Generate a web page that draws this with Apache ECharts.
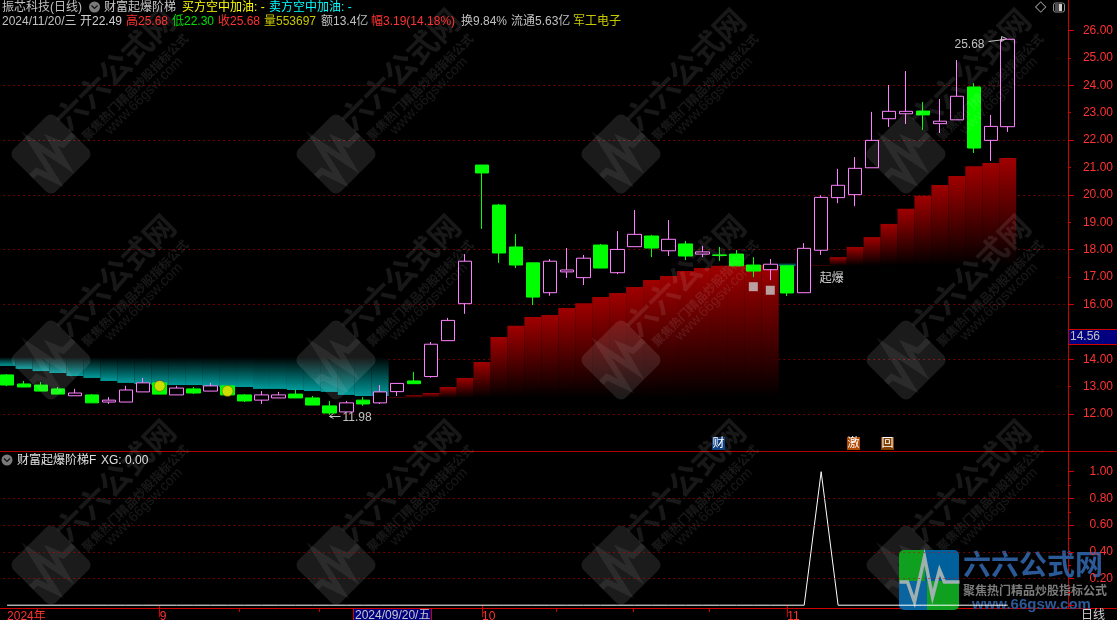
<!DOCTYPE html>
<html><head><meta charset="utf-8">
<style>html,body{margin:0;padding:0;background:#000;overflow:hidden}#c{width:1117px;height:620px}</style>
<script src="https://cdn.jsdelivr.net/npm/echarts@6/dist/echarts.min.js"></script>
</head><body><div id="c"></div>
<script>
const dates = ['08/20','08/21','08/22','08/23','08/26','08/27','08/28','08/29','08/30',
 '09/02','09/03','09/04','09/05','09/06','09/09','09/10','09/11','09/12','09/13','09/18','09/19','09/20','09/23','09/24','09/25','09/26','09/27','09/30',
 '10/08','10/09','10/10','10/11','10/14','10/15','10/16','10/17','10/18','10/21','10/22','10/23','10/24','10/25','10/28','10/29','10/30','10/31',
 '11/01','11/04','11/05','11/06','11/07','11/08','11/11','11/12','11/13','11/14','11/15','11/18','11/19','11/20'];
const opens  = [13.43,13.10,13.06,12.92,12.67,12.70,12.44,12.44,12.81,13.14,12.70,12.92,12.84,13.03,12.70,12.51,12.59,12.73,12.59,12.30,12.08,12.51,12.41,12.82,13.21,13.37,14.68,16.03,21.09,19.63,18.10,17.52,16.43,17.19,16.98,18.17,17.16,18.11,18.50,17.96,18.21,17.84,17.81,17.84,17.44,17.27,17.41,16.43,17.98,19.90,20.01,20.99,22.78,22.96,23.06,22.60,22.74,23.94,21.99,22.49];
const closes = [13.06,12.99,12.84,12.73,12.77,12.41,12.51,12.88,13.14,12.73,12.95,12.77,13.03,12.70,12.48,12.70,12.70,12.59,12.33,12.04,12.41,12.37,12.81,13.12,13.11,14.55,15.42,17.58,20.80,17.88,17.44,16.27,17.58,17.26,17.69,17.33,18.01,18.56,18.06,18.38,17.77,17.92,17.79,17.41,17.22,17.47,16.42,18.05,19.91,20.35,20.97,21.99,23.05,23.05,22.92,22.69,23.60,21.71,22.50,25.68];
const lows   = [13.02,12.99,12.84,12.73,12.67,12.41,12.37,12.44,12.81,12.73,12.70,12.73,12.84,12.70,12.44,12.37,12.59,12.59,12.33,11.98,12.08,12.30,12.37,12.66,13.11,13.33,14.68,15.66,18.76,17.52,17.33,15.98,16.32,16.97,16.71,17.33,17.11,18.11,17.73,17.77,17.62,17.73,17.59,17.41,17.00,16.89,16.31,16.43,17.81,19.70,19.59,20.99,22.48,22.59,22.37,22.26,22.74,21.53,21.24,22.30];
const highs  = [13.46,13.21,13.17,12.99,12.92,12.73,12.62,13.03,13.32,13.14,13.03,12.99,13.14,13.03,12.73,12.84,12.81,12.88,12.66,12.48,12.48,12.62,13.06,13.12,13.54,14.63,15.51,17.84,21.09,19.67,18.57,17.52,17.66,18.06,17.81,18.21,18.68,19.45,18.54,19.08,18.32,18.14,18.10,17.99,17.73,17.66,17.41,18.24,19.99,20.95,21.38,23.03,24.01,24.52,23.39,23.50,24.92,24.08,22.92,25.68];
const n_ = null;
const redTop  = [n_,n_,n_,n_,n_,n_,n_,n_,n_,n_,n_,n_,n_,n_,n_,n_,n_,n_,n_,n_,n_,n_,n_,12.62,12.69,12.77,12.99,13.32,13.90,14.81,15.22,15.54,15.62,15.87,16.05,16.27,16.42,16.64,16.89,17.04,17.22,17.33,17.41,17.44,17.44,17.44,n_,17.44,17.44,17.73,18.10,18.46,18.94,19.49,19.97,20.36,20.69,21.05,21.16,21.35];
const redBase = [n_,n_,n_,n_,n_,n_,n_,n_,n_,n_,n_,n_,n_,n_,n_,n_,n_,n_,n_,n_,n_,n_,n_,12.59,12.59,12.59,12.59,12.59,12.59,12.59,12.59,12.59,12.59,12.59,12.59,12.59,12.59,12.59,12.59,12.59,12.59,12.59,12.59,12.59,12.59,12.59,n_,17.41,17.41,17.41,17.41,17.41,17.41,17.41,17.41,17.41,17.41,17.41,17.41,17.41];
const cyanTop = [14.08,14.08,14.08,14.08,14.08,14.08,14.08,14.08,14.08,14.08,14.08,14.08,14.08,14.08,14.08,14.08,14.08,14.08,14.08,14.08,14.08,14.08,14.08,n_,n_,n_,n_,n_,n_,n_,n_,n_,n_,n_,n_,n_,n_,n_,n_,n_,n_,n_,n_,n_,n_,n_,17.52,n_,n_,n_,n_,n_,n_,n_,n_,n_,n_,n_,n_,n_];
const cyanBottom = [13.76,13.65,13.57,13.50,13.39,13.32,13.21,13.14,13.10,13.06,13.06,13.06,13.03,12.99,12.99,12.92,12.92,12.88,12.84,12.81,12.70,12.66,12.66,n_,n_,n_,n_,n_,n_,n_,n_,n_,n_,n_,n_,n_,n_,n_,n_,n_,n_,n_,n_,n_,n_,n_,17.41,n_,n_,n_,n_,n_,n_,n_,n_,n_,n_,n_,n_,n_];
const yellowSignals = [[9,13.03],[13,12.84]];
const grayMarks = [[44,16.65],[45,16.52]];
const blastLabel = [[48,16.93]];
const extremes = [[59,25.68,'high'],[19,11.98,'low']];
const xg = [0,0,0,0,0,0,0,0,0,0,0,0,0,0,0,0,0,0,0,0,0,0,0,0,0,0,0,0,0,0,0,0,0,0,0,0,0,0,0,0,0,0,0,0,0,0,0,0,1,0,0,0,0,0,0,0,0,0,0,0];
const monthLabels = {0:'2024年',9:'9',28:'10',46:'11'};
const monthTicks = [9,28,46];
const minorTickX = [239,319,556,633,709];
const headerRow1 = [['振芯科技(日线)',2,'#c0c0c0'],['财富起爆阶梯',104,'#c8c8c8'],['买方空中加油: -',182,'#ffff00'],['卖方空中加油: -',269,'#00ffff']];
const headerRow2 = [['2024/11/20/三',2,'#c0c0c0'],['开22.49',80,'#d0d0d0'],['高25.68',126,'#ff3232'],['低22.30',172,'#00e000'],['收25.68',218,'#ff3232'],['量553697',264,'#c8c800'],['额13.4亿',321,'#c0c0c0'],['幅3.19(14.18%)',371,'#ff3232'],['换9.84%',461,'#c0c0c0'],['流通5.63亿',511,'#c0c0c0'],['军工电子',573,'#c8c800']];
const wmX = [51,336,621,906], wmY = [154,360,565];
const ecg = [[-30,2],[-22,2],[-15,22],[-5,-23],[3,17],[10,-10],[15,2],[30,2]];

const FONT = '"Liberation Sans","Noto Sans CJK SC",sans-serif';
const RED='#d00000', DOT='#d80000', LBL='#ff3232';
const cats = dates.map(d=>'2024/'+d).concat(['','','']);
const gfx = [];
const T=(text,x,y,fill,size,extra)=>gfx.push(Object.assign({type:'text',x,y:y+1,z:120,silent:true,style:Object.assign({text,fill,font:(size||12)+'px '+FONT,verticalAlign:'middle'},extra||{})}));
const HL=(x1,y1,x2,y2,stroke,w,z)=>gfx.push({type:'line',z:z||50,silent:true,shape:{x1,y1,x2,y2},style:{stroke,lineWidth:w||1}});

// watermark
wmX.forEach(cx=>wmY.forEach(cy=>{
  gfx.push({type:'rect',z:100,silent:true,x:cx,y:cy,rotation:Math.PI/4,shape:{x:-30,y:-30,width:60,height:60,r:7},style:{fill:'rgba(255,255,255,0.105)'}});
  gfx.push({type:'polyline',z:100,silent:true,x:cx,y:cy,rotation:Math.PI/4,shape:{points:ecg},style:{fill:'none',stroke:'rgba(255,255,255,0.07)',lineWidth:6}});
  const wm=(text,dx,dy,font)=>gfx.push({type:'text',z:100,silent:true,x:cx+dx,y:cy+dy,rotation:Math.PI/4,style:{text,font,fill:'rgba(255,255,255,0.095)',align:'center',verticalAlign:'middle'}});
  wm('六六公式网',64,-85,'bold 31px "Noto Sans CJK SC"');
  wm('聚焦热门精品炒股指标公式',84,-67,'bold 12px "Noto Sans CJK SC"');
  wm('www.66gsw.com',93,-58,'14px "Liberation Sans"');
}));
// frame lines
HL(0,451.5,1117,451.5,'#b00000',1);
HL(0,608.5,1117,608.5,'#d00000',1);
HL(1068.5,0,1068.5,609,RED,1);
minorTickX.forEach(x=>HL(x+.5,608,x+.5,612,RED,1));
// header
headerRow1.forEach(r=>T(r[0],r[1],7,r[2]));
headerRow2.forEach(r=>T(r[0],r[1],21,r[2]));
const chevron=(cx,cy)=>{
  gfx.push({type:'circle',z:120,silent:true,shape:{cx,cy,r:5.5},style:{fill:'#7a7a7a'}});
  gfx.push({type:'polyline',z:121,silent:true,shape:{points:[[cx-3,cy-1.5],[cx,cy+1.5],[cx+3,cy-1.5]]},style:{fill:'none',stroke:'#111',lineWidth:1.2}});
};
chevron(94.5,7); chevron(7,460);
T('财富起爆阶梯F',17,460,'#e0e0e0'); T('XG: 0.00',101,460,'#e0e0e0');
// top-right icons
gfx.push({type:'rect',z:120,silent:true,x:1040.7,y:7,rotation:Math.PI/4,shape:{x:-3.6,y:-3.6,width:7.2,height:7.2},style:{fill:'none',stroke:'#909090'}});
gfx.push({type:'rect',z:120,silent:true,shape:{x:1053.5,y:3,width:11,height:9,r:2},style:{fill:'#000',stroke:'#909090'}});
gfx.push({type:'rect',z:121,silent:true,shape:{x:1059,y:4,width:3,height:7},style:{fill:'#d0d0d0'}});
gfx.push({type:'rect',z:121,silent:true,shape:{x:1055,y:4,width:4,height:7},style:{fill:'#505050'}});
// last price box
gfx.push({type:'rect',z:110,silent:true,shape:{x:1069,y:329.5,width:48,height:15},style:{fill:'#000080'}});
HL(1069,329.5,1117,329.5,RED,1,111); HL(1069,344.5,1117,344.5,RED,1,111);
T('14.56',1070,336,'#c0c0c0');
// cursor date box
gfx.push({type:'rect',z:110,silent:true,shape:{x:353.5,y:608.5,width:78,height:12},style:{fill:'#000080',stroke:RED}});
T('2024/09/20/五',355,615,'#c8c8c8');
T('日线',1081,615,'#d0d0d0');
// badges
const badge=(x,text,bg)=>{gfx.push({type:'rect',z:110,silent:true,shape:{x,y:437,width:13,height:13},style:{fill:bg}});
 T(text,x+6.5,443,'#fff',12,{align:'center'});};
badge(712,'财','#104080'); badge(847,'激','#b04800'); badge(881,'回','#804000');
// corner logo
const G=echarts.graphic.LinearGradient;
const hard=(p,a,b)=>new G(0,0,1,0,[{offset:0,color:a},{offset:p,color:a},{offset:p,color:b},{offset:1,color:b}]);
gfx.push({type:'rect',z:130,silent:true,shape:{x:899,y:550,width:60,height:31,r:[5,5,0,0]},style:{fill:hard(.43,'#0ea01e','#00609c')}});
gfx.push({type:'rect',z:130,silent:true,shape:{x:899,y:581,width:60,height:29,r:[0,0,5,5]},style:{fill:hard(.46,'#0a64a0','#0ea01e')}});
gfx.push({type:'polyline',z:131,silent:true,x:929.5,y:580,shape:{points:ecg},style:{fill:'none',stroke:'#9fb0b0',lineWidth:3.5}});
gfx.push({type:'text',z:131,silent:true,x:963,y:564,style:{text:'六六公式网',fill:'#2b5a98',font:'bold 28px "Noto Sans CJK SC"',verticalAlign:'middle'}});
gfx.push({type:'text',z:131,silent:true,x:963,y:590.5,style:{text:'聚焦热门精品炒股指标公式',fill:'#7c7c7c',font:'bold 12px "Noto Sans CJK SC"',verticalAlign:'middle'}});
gfx.push({type:'text',z:131,silent:true,x:972,y:605,style:{text:'www.66gsw.com',fill:'#2b5a98',font:'bold 15px "Liberation Sans"',verticalAlign:'middle'}});

const zip=(a,b)=>a.map((v,i)=>v==null?null:[i,v,b[i]]).filter(Boolean);
const column=(mkFill)=>(params,api)=>{
  const a=api.coord([api.value(0),api.value(1)]), b=api.coord([api.value(0),api.value(2)]);
  const w=api.size([1,0])[0];
  return {type:'rect',shape:{x:a[0]-w/2,y:Math.min(a[1],b[1]),width:w,height:Math.abs(b[1]-a[1])},style:{fill:mkFill()}};
};
const redFill=()=>new G(0,0,0,1,[{offset:0,color:'#a00000'},{offset:1,color:'#000'}]);
const cyanFill=()=>new G(0,0,0,1,[{offset:0,color:'#000'},{offset:1,color:'#009c9c'}]);
const annot=(params,api)=>{
  const p=api.coord([api.value(0),api.value(1)]), v=api.value(1).toFixed(2), c='#c0c0c0';
  const high=api.value(2)>0, x=Math.round(p[0])+.5, y=Math.round(p[1])+.5, kids=[];
  if(high){
    kids.push({type:'text',x:x-24,y:y+5,style:{text:v,fill:c,font:'12px '+FONT,align:'right',verticalAlign:'middle'}});
    kids.push({type:'line',shape:{x1:x-20,y1:y+2,x2:x-4,y2:y},style:{stroke:c}});
    kids.push({type:'polygon',shape:{points:[[x-7,y-3],[x-2,y-1],[x-7,y+2]]},style:{fill:'none',stroke:c}});
  }else{
    kids.push({type:'text',x:x+13,y:y+2,style:{text:v,fill:c,font:'12px '+FONT,align:'left',verticalAlign:'middle'}});
    kids.push({type:'line',shape:{x1:x,y1:y+1,x2:x+11,y2:y+1},style:{stroke:c}});
    kids.push({type:'polyline',shape:{points:[[x+4,y-2],[x,y+1],[x+4,y+3]]},style:{fill:'none',stroke:c}});
  }
  return {type:'group',children:kids};
};
const dottedMain={show:true,showMinLine:true,showMaxLine:false,lineStyle:{color:DOT,type:[1,4],width:1}};
const dottedLow={show:true,showMinLine:false,showMaxLine:false,lineStyle:{color:DOT,type:[1,4],width:1}};
const axisLineOff={show:false};

const chart=echarts.init(document.getElementById('c'),null,{renderer:'canvas'});
chart.setOption({
  animation:false,backgroundColor:'#000',
  textStyle:{fontFamily:FONT},
  grid:[{left:-1.4,top:30.5,width:1068.48,height:383.6,containLabel:false,outerBoundsMode:'none'},{left:-1.4,top:471.7,width:1068.48,height:133.5,containLabel:false,outerBoundsMode:'none'}],
  xAxis:[
   {type:'category',gridIndex:0,data:cats,show:false},
   {type:'category',gridIndex:1,data:cats,position:'bottom',offset:3,axisLine:axisLineOff,
    axisTick:{show:true,alignWithLabel:true,length:12,lineStyle:{color:RED},interval:i=>monthTicks.includes(i)},
    axisLabel:{show:true,interval:i=>monthLabels[i]!==undefined,formatter:(v,i)=>monthLabels[i]||'',color:LBL,fontSize:12,align:'left',margin:2,fontFamily:FONT,hideOverlap:false}}
  ],
  yAxis:[
   {type:'value',gridIndex:0,position:'right',offset:0.9,min:12,max:26,interval:2,axisLine:axisLineOff,axisTick:{show:true,length:6,lineStyle:{color:RED}},axisLabel:{show:false},splitLine:dottedMain},
   {type:'value',gridIndex:0,position:'right',offset:0.9,min:12,max:26,interval:1,axisLine:axisLineOff,axisTick:{show:true,length:3,lineStyle:{color:RED}},
    axisLabel:{show:true,align:'right',margin:45,color:LBL,fontSize:12,fontFamily:FONT,padding:[2,0,0,0],formatter:v=>v===15?'':v.toFixed(2)},splitLine:{show:false}},
   {type:'value',gridIndex:1,position:'right',offset:0.9,z:140,min:0,max:1,interval:0.2,axisLine:axisLineOff,axisTick:{show:true,length:6,lineStyle:{color:RED}},
    minorTick:{show:true,splitNumber:2,length:3,lineStyle:{color:RED}},
    axisLabel:{show:true,align:'right',margin:45,color:LBL,fontSize:12,fontFamily:FONT,padding:[2,0,0,0],formatter:v=>v===0?'':v.toFixed(2)},splitLine:dottedLow}
  ],
  graphic:{elements:gfx},
  series:[
   {type:'custom',name:'底部青',xAxisIndex:0,yAxisIndex:0,z:2,renderItem:column(cyanFill),data:zip(cyanTop,cyanBottom),encode:{x:0,y:[1,2]}},
   {type:'custom',name:'阶梯',xAxisIndex:0,yAxisIndex:0,z:2,renderItem:column(redFill),data:zip(redTop,redBase),encode:{x:0,y:[1,2]}},
   {type:'candlestick',name:'K线',xAxisIndex:0,yAxisIndex:0,z:3,barWidth:14,clip:false,
    itemStyle:{color:'#000',color0:'#00ff00',borderColor:'#ff80ff',borderColor0:'#00ff00',borderWidth:1},
    data:opens.map((o,i)=>[o,closes[i],lows[i],highs[i]])},
   {type:'scatter',name:'信号',xAxisIndex:0,yAxisIndex:0,z:4,symbol:'circle',symbolSize:11,itemStyle:{color:'#ffd800',borderColor:'#4a3a00',borderWidth:0.5},data:yellowSignals},
   {type:'scatter',name:'灰',xAxisIndex:0,yAxisIndex:0,z:4,symbol:'rect',symbolSize:9,itemStyle:{color:'#c8c8c8'},data:grayMarks},
   {type:'scatter',name:'起爆',xAxisIndex:0,yAxisIndex:0,z:5,symbolSize:1,itemStyle:{color:'transparent'},
    label:{show:true,position:'right',distance:0,offset:[-2,0],formatter:'起爆',color:'#fff',fontSize:12,fontFamily:FONT},data:blastLabel},
   {type:'custom',name:'极值',xAxisIndex:0,yAxisIndex:0,z:6,renderItem:annot,data:extremes.map(e=>[e[0],e[1],e[2]==='high'?1:0]),encode:{x:0,y:1}},
   {type:'line',name:'XG',xAxisIndex:1,yAxisIndex:2,z:135,clip:false,showSymbol:false,symbol:'none',lineStyle:{color:'#fff',width:1},data:xg}
  ]
});
</script></body></html>
